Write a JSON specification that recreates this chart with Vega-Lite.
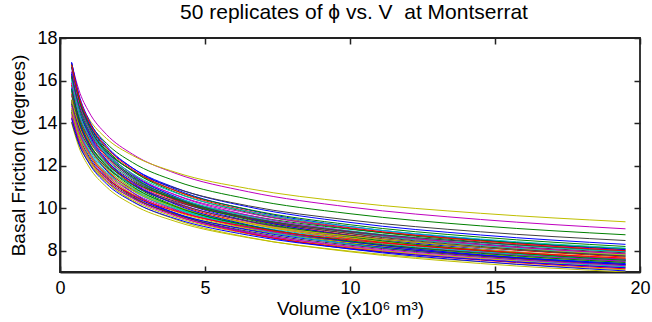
{
"$schema":"https://vega.github.io/schema/vega-lite/v6.json",
"width":580,"height":234,
"autosize":"none",
"padding":{"left":60,"top":38,"right":12,"bottom":50},
"background":"white",
"title":{"text":"50 replicates of ϕ vs. V \u00a0at Montserrat","fontSize":21,"fontWeight":"normal","font":"Liberation Sans","color":"#000","offset":6,"anchor":"middle","dx":4},
"config":{
 "view":{"stroke":"#222","strokeWidth":1.8},
 "axis":{"domainColor":"#222","domainWidth":1.8,"tickColor":"#222","tickWidth":1.5,"tickSize":-6,"grid":false,"labelFlush":false,"labelFont":"Liberation Sans","labelFontSize":18,"labelColor":"#000","titleFont":"Liberation Sans","titleFontSize":19,"titleFontWeight":"normal","titleColor":"#000"}
},
"data":{"values":[
{"r":1,"v":0.4,"f":16.39},{"r":1,"v":0.65,"f":15.05},{"r":1,"v":1,"f":13.96},{"r":1,"v":1.6,"f":12.86},{"r":1,"v":2.5,"f":11.89},{"r":1,"v":4,"f":10.95},{"r":1,"v":6.5,"f":10.06},{"r":1,"v":10,"f":9.33},{"r":1,"v":14.5,"f":8.74},{"r":1,"v":19.5,"f":8.30},
{"r":2,"v":0.4,"f":16.64},{"r":2,"v":0.65,"f":15.17},{"r":2,"v":1,"f":13.98},{"r":2,"v":1.6,"f":12.78},{"r":2,"v":2.5,"f":11.75},{"r":2,"v":4,"f":10.74},{"r":2,"v":6.5,"f":9.80},{"r":2,"v":10,"f":9.03},{"r":2,"v":14.5,"f":8.41},{"r":2,"v":19.5,"f":7.95},
{"r":3,"v":0.4,"f":16.11},{"r":3,"v":0.65,"f":14.69},{"r":3,"v":1,"f":13.54},{"r":3,"v":1.6,"f":12.38},{"r":3,"v":2.5,"f":11.38},{"r":3,"v":4,"f":10.40},{"r":3,"v":6.5,"f":9.49},{"r":3,"v":10,"f":8.74},{"r":3,"v":14.5,"f":8.15},{"r":3,"v":19.5,"f":7.70},
{"r":4,"v":0.4,"f":15.00},{"r":4,"v":0.65,"f":13.78},{"r":4,"v":1,"f":12.78},{"r":4,"v":1.6,"f":11.77},{"r":4,"v":2.5,"f":10.89},{"r":4,"v":4,"f":10.03},{"r":4,"v":6.5,"f":9.21},{"r":4,"v":10,"f":8.54},{"r":4,"v":14.5,"f":8.00},{"r":4,"v":19.5,"f":7.60},
{"r":5,"v":0.4,"f":16.82},{"r":5,"v":0.65,"f":15.56},{"r":5,"v":1,"f":14.52},{"r":5,"v":1.6,"f":13.47},{"r":5,"v":2.5,"f":12.54},{"r":5,"v":4,"f":11.63},{"r":5,"v":6.5,"f":10.77},{"r":5,"v":10,"f":10.05},{"r":5,"v":14.5,"f":9.47},{"r":5,"v":19.5,"f":9.03},
{"r":6,"v":0.4,"f":16.13},{"r":6,"v":0.65,"f":15.07},{"r":6,"v":1,"f":14.19},{"r":6,"v":1.6,"f":13.28},{"r":6,"v":2.5,"f":12.48},{"r":6,"v":4,"f":11.68},{"r":6,"v":6.5,"f":10.92},{"r":6,"v":10,"f":10.28},{"r":6,"v":14.5,"f":9.76},{"r":6,"v":19.5,"f":9.36},
{"r":7,"v":0.4,"f":15.79},{"r":7,"v":0.65,"f":14.61},{"r":7,"v":1,"f":13.64},{"r":7,"v":1.6,"f":12.65},{"r":7,"v":2.5,"f":11.78},{"r":7,"v":4,"f":10.93},{"r":7,"v":6.5,"f":10.11},{"r":7,"v":10,"f":9.44},{"r":7,"v":14.5,"f":8.89},{"r":7,"v":19.5,"f":8.48},
{"r":8,"v":0.4,"f":16.64},{"r":8,"v":0.65,"f":15.06},{"r":8,"v":1,"f":13.79},{"r":8,"v":1.6,"f":12.52},{"r":8,"v":2.5,"f":11.43},{"r":8,"v":4,"f":10.38},{"r":8,"v":6.5,"f":9.40},{"r":8,"v":10,"f":8.60},{"r":8,"v":14.5,"f":7.97},{"r":8,"v":19.5,"f":7.50},
{"r":9,"v":0.4,"f":16.30},{"r":9,"v":0.65,"f":15.08},{"r":9,"v":1,"f":14.07},{"r":9,"v":1.6,"f":13.05},{"r":9,"v":2.5,"f":12.15},{"r":9,"v":4,"f":11.27},{"r":9,"v":6.5,"f":10.43},{"r":9,"v":10,"f":9.74},{"r":9,"v":14.5,"f":9.17},{"r":9,"v":19.5,"f":8.75},
{"r":10,"v":0.4,"f":15.50},{"r":10,"v":0.65,"f":14.24},{"r":10,"v":1,"f":13.20},{"r":10,"v":1.6,"f":12.16},{"r":10,"v":2.5,"f":11.25},{"r":10,"v":4,"f":10.36},{"r":10,"v":6.5,"f":9.51},{"r":10,"v":10,"f":8.82},{"r":10,"v":14.5,"f":8.27},{"r":10,"v":19.5,"f":7.85},
{"r":11,"v":0.4,"f":15.49},{"r":11,"v":0.65,"f":14.12},{"r":11,"v":1,"f":13.01},{"r":11,"v":1.6,"f":11.90},{"r":11,"v":2.5,"f":10.93},{"r":11,"v":4,"f":10.00},{"r":11,"v":6.5,"f":9.12},{"r":11,"v":10,"f":8.40},{"r":11,"v":14.5,"f":7.83},{"r":11,"v":19.5,"f":7.40},
{"r":12,"v":0.4,"f":15.89},{"r":12,"v":0.65,"f":14.60},{"r":12,"v":1,"f":13.54},{"r":12,"v":1.6,"f":12.47},{"r":12,"v":2.5,"f":11.53},{"r":12,"v":4,"f":10.62},{"r":12,"v":6.5,"f":9.76},{"r":12,"v":10,"f":9.05},{"r":12,"v":14.5,"f":8.48},{"r":12,"v":19.5,"f":8.05},
{"r":13,"v":0.4,"f":14.02},{"r":13,"v":0.65,"f":12.88},{"r":13,"v":1,"f":11.94},{"r":13,"v":1.6,"f":11.00},{"r":13,"v":2.5,"f":10.17},{"r":13,"v":4,"f":9.37},{"r":13,"v":6.5,"f":8.61},{"r":13,"v":10,"f":7.98},{"r":13,"v":14.5,"f":7.48},{"r":13,"v":19.5,"f":7.10},
{"r":14,"v":0.4,"f":14.06},{"r":14,"v":0.65,"f":13.01},{"r":14,"v":1,"f":12.14},{"r":14,"v":1.6,"f":11.26},{"r":14,"v":2.5,"f":10.49},{"r":14,"v":4,"f":9.73},{"r":14,"v":6.5,"f":9.00},{"r":14,"v":10,"f":8.40},{"r":14,"v":14.5,"f":7.92},{"r":14,"v":19.5,"f":7.55},
{"r":15,"v":0.4,"f":16.85},{"r":15,"v":0.65,"f":15.36},{"r":15,"v":1,"f":14.15},{"r":15,"v":1.6,"f":12.94},{"r":15,"v":2.5,"f":11.89},{"r":15,"v":4,"f":10.88},{"r":15,"v":6.5,"f":9.92},{"r":15,"v":10,"f":9.14},{"r":15,"v":14.5,"f":8.52},{"r":15,"v":19.5,"f":8.05},
{"r":16,"v":0.4,"f":16.19},{"r":16,"v":0.65,"f":14.66},{"r":16,"v":1,"f":13.42},{"r":16,"v":1.6,"f":12.19},{"r":16,"v":2.5,"f":11.12},{"r":16,"v":4,"f":10.10},{"r":16,"v":6.5,"f":9.14},{"r":16,"v":10,"f":8.37},{"r":16,"v":14.5,"f":7.76},{"r":16,"v":19.5,"f":7.30},
{"r":17,"v":0.4,"f":15.80},{"r":17,"v":0.65,"f":14.41},{"r":17,"v":1,"f":13.27},{"r":17,"v":1.6,"f":12.14},{"r":17,"v":2.5,"f":11.15},{"r":17,"v":4,"f":10.20},{"r":17,"v":6.5,"f":9.30},{"r":17,"v":10,"f":8.57},{"r":17,"v":14.5,"f":7.99},{"r":17,"v":19.5,"f":7.55},
{"r":18,"v":0.4,"f":16.32},{"r":18,"v":0.65,"f":14.88},{"r":18,"v":1,"f":13.71},{"r":18,"v":1.6,"f":12.54},{"r":18,"v":2.5,"f":11.52},{"r":18,"v":4,"f":10.54},{"r":18,"v":6.5,"f":9.61},{"r":18,"v":10,"f":8.86},{"r":18,"v":14.5,"f":8.25},{"r":18,"v":19.5,"f":7.80},
{"r":19,"v":0.4,"f":15.07},{"r":19,"v":0.65,"f":13.74},{"r":19,"v":1,"f":12.66},{"r":19,"v":1.6,"f":11.58},{"r":19,"v":2.5,"f":10.64},{"r":19,"v":4,"f":9.73},{"r":19,"v":6.5,"f":8.87},{"r":19,"v":10,"f":8.17},{"r":19,"v":14.5,"f":7.62},{"r":19,"v":19.5,"f":7.20},
{"r":20,"v":0.4,"f":14.31},{"r":20,"v":0.65,"f":13.15},{"r":20,"v":1,"f":12.19},{"r":20,"v":1.6,"f":11.23},{"r":20,"v":2.5,"f":10.39},{"r":20,"v":4,"f":9.57},{"r":20,"v":6.5,"f":8.79},{"r":20,"v":10,"f":8.15},{"r":20,"v":14.5,"f":7.64},{"r":20,"v":19.5,"f":7.25},
{"r":21,"v":0.4,"f":15.60},{"r":21,"v":0.65,"f":14.33},{"r":21,"v":1,"f":13.29},{"r":21,"v":1.6,"f":12.24},{"r":21,"v":2.5,"f":11.32},{"r":21,"v":4,"f":10.42},{"r":21,"v":6.5,"f":9.57},{"r":21,"v":10,"f":8.88},{"r":21,"v":14.5,"f":8.32},{"r":21,"v":19.5,"f":7.90},
{"r":22,"v":0.4,"f":16.86},{"r":22,"v":0.65,"f":15.26},{"r":22,"v":1,"f":13.97},{"r":22,"v":1.6,"f":12.69},{"r":22,"v":2.5,"f":11.58},{"r":22,"v":4,"f":10.52},{"r":22,"v":6.5,"f":9.52},{"r":22,"v":10,"f":8.71},{"r":22,"v":14.5,"f":8.08},{"r":22,"v":19.5,"f":7.60},
{"r":23,"v":0.4,"f":15.09},{"r":23,"v":0.65,"f":13.96},{"r":23,"v":1,"f":13.03},{"r":23,"v":1.6,"f":12.08},{"r":23,"v":2.5,"f":11.25},{"r":23,"v":4,"f":10.44},{"r":23,"v":6.5,"f":9.66},{"r":23,"v":10,"f":9.01},{"r":23,"v":14.5,"f":8.49},{"r":23,"v":19.5,"f":8.10},
{"r":24,"v":0.4,"f":15.38},{"r":24,"v":0.65,"f":14.03},{"r":24,"v":1,"f":12.92},{"r":24,"v":1.6,"f":11.82},{"r":24,"v":2.5,"f":10.86},{"r":24,"v":4,"f":9.93},{"r":24,"v":6.5,"f":9.06},{"r":24,"v":10,"f":8.34},{"r":24,"v":14.5,"f":7.77},{"r":24,"v":19.5,"f":7.35},
{"r":25,"v":0.4,"f":15.70},{"r":25,"v":0.65,"f":14.42},{"r":25,"v":1,"f":13.37},{"r":25,"v":1.6,"f":12.31},{"r":25,"v":2.5,"f":11.39},{"r":25,"v":4,"f":10.49},{"r":25,"v":6.5,"f":9.64},{"r":25,"v":10,"f":8.94},{"r":25,"v":14.5,"f":8.37},{"r":25,"v":19.5,"f":7.95},
{"r":26,"v":0.4,"f":15.91},{"r":26,"v":0.65,"f":14.50},{"r":26,"v":1,"f":13.36},{"r":26,"v":1.6,"f":12.22},{"r":26,"v":2.5,"f":11.23},{"r":26,"v":4,"f":10.27},{"r":26,"v":6.5,"f":9.36},{"r":26,"v":10,"f":8.63},{"r":26,"v":14.5,"f":8.04},{"r":26,"v":19.5,"f":7.60},
{"r":27,"v":0.4,"f":14.71},{"r":27,"v":0.65,"f":13.51},{"r":27,"v":1,"f":12.53},{"r":27,"v":1.6,"f":11.54},{"r":27,"v":2.5,"f":10.67},{"r":27,"v":4,"f":9.83},{"r":27,"v":6.5,"f":9.03},{"r":27,"v":10,"f":8.37},{"r":27,"v":14.5,"f":7.85},{"r":27,"v":19.5,"f":7.45},
{"r":28,"v":0.4,"f":15.30},{"r":28,"v":0.65,"f":14.05},{"r":28,"v":1,"f":13.03},{"r":28,"v":1.6,"f":12.00},{"r":28,"v":2.5,"f":11.10},{"r":28,"v":4,"f":10.23},{"r":28,"v":6.5,"f":9.39},{"r":28,"v":10,"f":8.71},{"r":28,"v":14.5,"f":8.16},{"r":28,"v":19.5,"f":7.75},
{"r":29,"v":0.4,"f":15.64},{"r":29,"v":0.65,"f":14.16},{"r":29,"v":1,"f":12.96},{"r":29,"v":1.6,"f":11.77},{"r":29,"v":2.5,"f":10.74},{"r":29,"v":4,"f":9.75},{"r":29,"v":6.5,"f":8.83},{"r":29,"v":10,"f":8.08},{"r":29,"v":14.5,"f":7.49},{"r":29,"v":19.5,"f":7.05},
{"r":30,"v":0.4,"f":16.19},{"r":30,"v":0.65,"f":14.87},{"r":30,"v":1,"f":13.79},{"r":30,"v":1.6,"f":12.70},{"r":30,"v":2.5,"f":11.75},{"r":30,"v":4,"f":10.82},{"r":30,"v":6.5,"f":9.94},{"r":30,"v":10,"f":9.22},{"r":30,"v":14.5,"f":8.64},{"r":30,"v":19.5,"f":8.20},
{"r":31,"v":0.4,"f":14.96},{"r":31,"v":0.65,"f":13.64},{"r":31,"v":1,"f":12.57},{"r":31,"v":1.6,"f":11.50},{"r":31,"v":2.5,"f":10.56},{"r":31,"v":4,"f":9.66},{"r":31,"v":6.5,"f":8.81},{"r":31,"v":10,"f":8.12},{"r":31,"v":14.5,"f":7.56},{"r":31,"v":19.5,"f":7.15},
{"r":32,"v":0.4,"f":14.91},{"r":32,"v":0.65,"f":13.69},{"r":32,"v":1,"f":12.70},{"r":32,"v":1.6,"f":11.69},{"r":32,"v":2.5,"f":10.82},{"r":32,"v":4,"f":9.96},{"r":32,"v":6.5,"f":9.15},{"r":32,"v":10,"f":8.49},{"r":32,"v":14.5,"f":7.95},{"r":32,"v":19.5,"f":7.55},
{"r":33,"v":0.4,"f":16.43},{"r":33,"v":0.65,"f":14.98},{"r":33,"v":1,"f":13.80},{"r":33,"v":1.6,"f":12.62},{"r":33,"v":2.5,"f":11.60},{"r":33,"v":4,"f":10.61},{"r":33,"v":6.5,"f":9.67},{"r":33,"v":10,"f":8.91},{"r":33,"v":14.5,"f":8.30},{"r":33,"v":19.5,"f":7.85},
{"r":34,"v":0.4,"f":15.10},{"r":34,"v":0.65,"f":13.87},{"r":34,"v":1,"f":12.86},{"r":34,"v":1.6,"f":11.85},{"r":34,"v":2.5,"f":10.96},{"r":34,"v":4,"f":10.09},{"r":34,"v":6.5,"f":9.27},{"r":34,"v":10,"f":8.60},{"r":34,"v":14.5,"f":8.06},{"r":34,"v":19.5,"f":7.65},
{"r":35,"v":0.4,"f":14.90},{"r":35,"v":0.65,"f":13.79},{"r":35,"v":1,"f":12.87},{"r":35,"v":1.6,"f":11.93},{"r":35,"v":2.5,"f":11.11},{"r":35,"v":4,"f":10.31},{"r":35,"v":6.5,"f":9.54},{"r":35,"v":10,"f":8.90},{"r":35,"v":14.5,"f":8.39},{"r":35,"v":19.5,"f":8.00},
{"r":36,"v":0.4,"f":14.61},{"r":36,"v":0.65,"f":13.42},{"r":36,"v":1,"f":12.44},{"r":36,"v":1.6,"f":11.46},{"r":36,"v":2.5,"f":10.60},{"r":36,"v":4,"f":9.76},{"r":36,"v":6.5,"f":8.97},{"r":36,"v":10,"f":8.32},{"r":36,"v":14.5,"f":7.79},{"r":36,"v":19.5,"f":7.40},
{"r":37,"v":0.4,"f":16.75},{"r":37,"v":0.65,"f":15.16},{"r":37,"v":1,"f":13.88},{"r":37,"v":1.6,"f":12.60},{"r":37,"v":2.5,"f":11.50},{"r":37,"v":4,"f":10.45},{"r":37,"v":6.5,"f":9.46},{"r":37,"v":10,"f":8.66},{"r":37,"v":14.5,"f":8.02},{"r":37,"v":19.5,"f":7.55},
{"r":38,"v":0.4,"f":16.74},{"r":38,"v":0.65,"f":15.27},{"r":38,"v":1,"f":14.07},{"r":38,"v":1.6,"f":12.86},{"r":38,"v":2.5,"f":11.82},{"r":38,"v":4,"f":10.81},{"r":38,"v":6.5,"f":9.86},{"r":38,"v":10,"f":9.08},{"r":38,"v":14.5,"f":8.46},{"r":38,"v":19.5,"f":8.00},
{"r":39,"v":0.4,"f":16.08},{"r":39,"v":0.65,"f":14.56},{"r":39,"v":1,"f":13.33},{"r":39,"v":1.6,"f":12.10},{"r":39,"v":2.5,"f":11.05},{"r":39,"v":4,"f":10.03},{"r":39,"v":6.5,"f":9.08},{"r":39,"v":10,"f":8.31},{"r":39,"v":14.5,"f":7.70},{"r":39,"v":19.5,"f":7.25},
{"r":40,"v":0.4,"f":14.81},{"r":40,"v":0.65,"f":13.60},{"r":40,"v":1,"f":12.61},{"r":40,"v":1.6,"f":11.62},{"r":40,"v":2.5,"f":10.74},{"r":40,"v":4,"f":9.90},{"r":40,"v":6.5,"f":9.09},{"r":40,"v":10,"f":8.43},{"r":40,"v":14.5,"f":7.90},{"r":40,"v":19.5,"f":7.50},
{"r":41,"v":0.4,"f":14.53},{"r":41,"v":0.65,"f":13.44},{"r":41,"v":1,"f":12.55},{"r":41,"v":1.6,"f":11.64},{"r":41,"v":2.5,"f":10.83},{"r":41,"v":4,"f":10.05},{"r":41,"v":6.5,"f":9.30},{"r":41,"v":10,"f":8.68},{"r":41,"v":14.5,"f":8.18},{"r":41,"v":19.5,"f":7.80},
{"r":42,"v":0.4,"f":14.51},{"r":42,"v":0.65,"f":13.33},{"r":42,"v":1,"f":12.36},{"r":42,"v":1.6,"f":11.38},{"r":42,"v":2.5,"f":10.53},{"r":42,"v":4,"f":9.70},{"r":42,"v":6.5,"f":8.91},{"r":42,"v":10,"f":8.26},{"r":42,"v":14.5,"f":7.74},{"r":42,"v":19.5,"f":7.35},
{"r":43,"v":0.4,"f":16.31},{"r":43,"v":0.65,"f":14.76},{"r":43,"v":1,"f":13.51},{"r":43,"v":1.6,"f":12.27},{"r":43,"v":2.5,"f":11.20},{"r":43,"v":4,"f":10.17},{"r":43,"v":6.5,"f":9.21},{"r":43,"v":10,"f":8.43},{"r":43,"v":14.5,"f":7.81},{"r":43,"v":19.5,"f":7.35},
{"r":44,"v":0.4,"f":15.59},{"r":44,"v":0.65,"f":14.22},{"r":44,"v":1,"f":13.10},{"r":44,"v":1.6,"f":11.98},{"r":44,"v":2.5,"f":11.01},{"r":44,"v":4,"f":10.07},{"r":44,"v":6.5,"f":9.18},{"r":44,"v":10,"f":8.46},{"r":44,"v":14.5,"f":7.88},{"r":44,"v":19.5,"f":7.45},
{"r":45,"v":0.4,"f":14.25},{"r":45,"v":0.65,"f":13.18},{"r":45,"v":1,"f":12.30},{"r":45,"v":1.6,"f":11.41},{"r":45,"v":2.5,"f":10.63},{"r":45,"v":4,"f":9.86},{"r":45,"v":6.5,"f":9.12},{"r":45,"v":10,"f":8.51},{"r":45,"v":14.5,"f":8.02},{"r":45,"v":19.5,"f":7.65},
{"r":46,"v":0.4,"f":16.03},{"r":46,"v":0.65,"f":14.72},{"r":46,"v":1,"f":13.66},{"r":46,"v":1.6,"f":12.58},{"r":46,"v":2.5,"f":11.63},{"r":46,"v":4,"f":10.71},{"r":46,"v":6.5,"f":9.84},{"r":46,"v":10,"f":9.13},{"r":46,"v":14.5,"f":8.55},{"r":46,"v":19.5,"f":8.12},
{"r":47,"v":0.4,"f":14.41},{"r":47,"v":0.65,"f":13.24},{"r":47,"v":1,"f":12.28},{"r":47,"v":1.6,"f":11.31},{"r":47,"v":2.5,"f":10.46},{"r":47,"v":4,"f":9.63},{"r":47,"v":6.5,"f":8.85},{"r":47,"v":10,"f":8.21},{"r":47,"v":14.5,"f":7.69},{"r":47,"v":19.5,"f":7.30},
{"r":48,"v":0.4,"f":14.65},{"r":48,"v":0.65,"f":13.36},{"r":48,"v":1,"f":12.31},{"r":48,"v":1.6,"f":11.26},{"r":48,"v":2.5,"f":10.34},{"r":48,"v":4,"f":9.46},{"r":48,"v":6.5,"f":8.63},{"r":48,"v":10,"f":7.95},{"r":48,"v":14.5,"f":7.40},{"r":48,"v":19.5,"f":7.00},
{"r":49,"v":0.4,"f":16.22},{"r":49,"v":0.65,"f":14.79},{"r":49,"v":1,"f":13.63},{"r":49,"v":1.6,"f":12.46},{"r":49,"v":2.5,"f":11.45},{"r":49,"v":4,"f":10.47},{"r":49,"v":6.5,"f":9.55},{"r":49,"v":10,"f":8.80},{"r":49,"v":14.5,"f":8.20},{"r":49,"v":19.5,"f":7.75},
{"r":50,"v":0.4,"f":14.22},{"r":50,"v":0.65,"f":13.06},{"r":50,"v":1,"f":12.11},{"r":50,"v":1.6,"f":11.15},{"r":50,"v":2.5,"f":10.31},{"r":50,"v":4,"f":9.50},{"r":50,"v":6.5,"f":8.73},{"r":50,"v":10,"f":8.09},{"r":50,"v":14.5,"f":7.58},{"r":50,"v":19.5,"f":7.20}
]},
"layer":[
 {"mark":{"type":"line","strokeWidth":1,"interpolate":"monotone","clip":true},
  "encoding":{
   "x":{"field":"v","type":"quantitative","scale":{"domain":[0,20],"nice":false,"zero":false},"axis":{"values":[0,5,10,15,20],"title":"Volume (x10⁶ m³)","labelPadding":13,"titlePadding":2}},
   "y":{"field":"f","type":"quantitative","scale":{"domain":[7,18],"nice":false,"zero":false},"axis":{"values":[8,10,12,14,16,18],"title":"Basal Friction (degrees)","labelPadding":9,"titlePadding":8}},
   "color":{"field":"r","type":"nominal","scale":{"range":["#0000ff","#008000","#ff0000","#00bfbf","#bf00bf","#bfbf00","#404040"]},"legend":null}
  }},
 {"mark":{"type":"line","opacity":0},
  "encoding":{
   "x":{"field":"v","type":"quantitative","axis":{"orient":"top","values":[0,5,10,15,20],"labels":false,"title":null,"domain":false}},
   "y":{"field":"f","type":"quantitative","axis":{"orient":"right","values":[8,10,12,14,16,18],"labels":false,"title":null,"domain":false}},
   "detail":{"field":"r","type":"nominal"}
  }}
],
"resolve":{"axis":{"x":"independent","y":"independent"}}
}
